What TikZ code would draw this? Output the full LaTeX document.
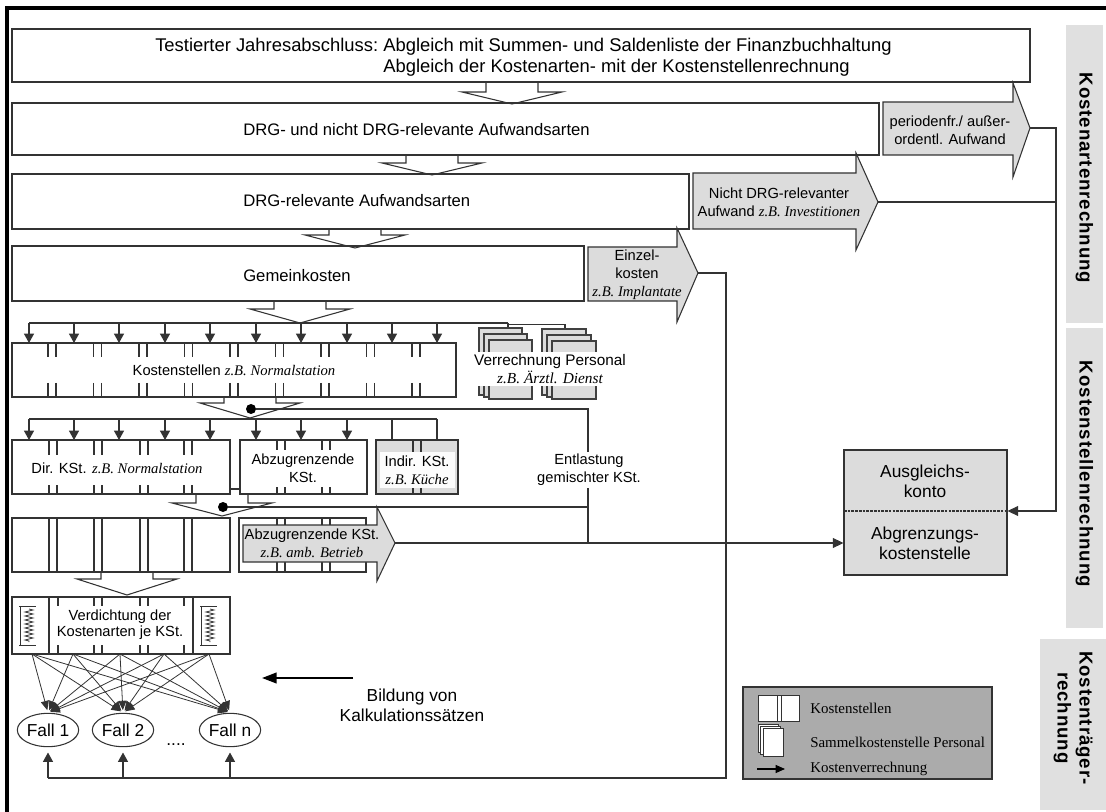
\documentclass[tikz,border=0pt]{standalone}
\usepackage{fontspec}
\setmainfont{Liberation Sans}
\newfontfamily\serif{Liberation Serif}
\newfontfamily\lblfont[LetterSpace=5]{Liberation Sans Bold}
\usetikzlibrary{arrows.meta,fit,decorations.pathmorphing,shapes.geometric}
\definecolor{lg}{HTML}{DCDCDC}
\definecolor{barc}{HTML}{E0E0E0}
\definecolor{leg}{HTML}{ABABAB}
\definecolor{ln}{HTML}{333333}
\newcommand\zb[1]{{\serif\itshape #1}}
\newcommand\hollow[4]{\draw[hol] ({#1-26},#2) -- ({#1-26},#3) -- ({#1-50},#3) -- (#1,#4) -- ({#1+50},#3) -- ({#1+26},#3) -- ({#1+26},#2);}
\newcommand\fatarrow[8]{\draw[fa] (#1,#4) -- (#2,#4) -- (#2,#6) -- (#3,#8) -- (#2,#7) -- (#2,#5) -- (#1,#5) -- cycle;}
\tikzset{
 bx/.style={draw=ln, line width=0.8pt, fill=white, inner sep=0pt},
 gbx/.style={bx, fill=lg},
 lt/.style={font=\fontsize{12.5}{15}\selectfont, inner sep=0pt},
 mt/.style={font=\fontsize{11}{13.5}\selectfont, inner sep=0pt, align=center},
 hol/.style={draw=ln, line width=0.8pt},
 fa/.style={draw=ln, line width=0.8pt, fill=lg},
 cn/.style={draw=ln, line width=0.8pt},
 tap/.style={cn, -{Triangle[width=7.5pt,length=7pt]}},
 tick/.style={draw=ln, line width=0.8pt},
 pg/.style={draw=black!75, fill=lg, line width=0.8pt},
 wpg/.style={draw=black!80, fill=white, line width=0.7pt},
 lbar/.style={fill=barc, inner sep=0pt},
 lbl/.style={rotate=-90, font=\lblfont\fontsize{14}{16.5}\selectfont, align=center},
 fall/.style={draw=ln, line width=0.8pt, fill=white, ellipse, minimum width=46pt, minimum height=25pt, inner sep=0pt, font=\fontsize{13}{15}\selectfont},
 fan/.style={draw=ln, line width=0.6pt, -{Triangle[width=6pt,length=7pt]}},
 legt/.style={font=\serif\fontsize{11.2}{12}\selectfont, anchor=west, inner sep=0pt},
}
\begin{document}
\begin{tikzpicture}[x=0.75pt,y=-0.75pt]
\useasboundingbox (0,0) rectangle (1106,812);
% frame
\draw[line width=2.3pt] (7,812) -- (7,8) -- (1106,8);

% right label bars
\node[lbar, fit={(1066,25)(1103,323)}] (L1) {};
\node[lbl] at ([yshift=-3pt]L1.center) {Kostenartenrechnung};
\node[lbar, fit={(1066,328)(1103,628)}] (L2) {};
\node[lbl] at ([yshift=3pt]L2.center) {Kostenstellenrechnung};
\node[lbar, fit={(1040,639)(1106,810)}] (L3) {};
\node[lbl] at ([yshift=5pt]L3.center) {Kostenträger-\\rechnung};

% main boxes
\node[bx, fit={(12,29)(1030,82)}] (A) {};
\node[inner sep=0pt, anchor=west, font=\fontsize{13.8}{15.8}\selectfont] at (155,57.5)
  {\begin{tabular}{@{}r@{\ }l@{}}Testierter Jahresabschluss:&Abgleich mit Summen- und Saldenliste der Finanzbuchhaltung\\
   &Abgleich der Kostenarten- mit der Kostenstellenrechnung\end{tabular}};
\node[bx, fit={(12,103)(879,155)}] (B) {};
\node[lt, anchor=west] at (243,130) {DRG- und nicht DRG-relevante Aufwandsarten};
\node[bx, fit={(12,174)(689,229)}] (C) {};
\node[lt, anchor=west] at (243,201) {DRG-relevante Aufwandsarten};
\node[bx, fit={(12,246)(584,301)}] (D) {};
\node[lt, anchor=west] at (243,276) {Gemeinkosten};

% hollow arrows
\hollow{512}{82}{92}{104}
\hollow{432}{155}{163}{175}
\hollow{355}{229}{235}{248}
\hollow{300}{301}{309}{323}

% fat gray arrows
\fatarrow{883}{1013}{1030}{102}{155}{83}{177}{128}
\node[mt] at (950,130) {periodenfr./ außer-\\ordentl. Aufwand};
\coordinate (tipP) at (1030,128);
\fatarrow{693}{856}{878}{173}{229}{153}{250}{202}
\node[mt] at (779,202) {Nicht DRG-relevanter\\Aufwand \zb{z.B. Investitionen}};
\coordinate (tipN) at (878,202);
\fatarrow{588}{677}{698}{247}{301}{228}{322}{273}
\node[mt] at (637,275) {Einzel-\\kosten\\\zb{z.B. Implantate}};
\coordinate (tipE) at (698,273);

% bus 1
\draw[cn] (29,323) -- (508,323);
\draw[cn, line width=1.4pt] (256,323) -- (508,323);
\foreach \x in {29,74,119,165,210,256,301,347,392,437}
  \draw[tap] (\x,323) -- (\x,343);
\draw[cn] (508,323) -- (508,328);
\draw[cn] (508,324.5) -- (565,324.5) -- (565,329);

% Kostenstellen
\node[bx, fit={(12,343)(456,397)}] (KS) {};
\foreach \k in {0,...,8}{
  \pgfmathsetmacro\xa{48+45.5*\k}
  \pgfmathsetmacro\xb{\xa+8}
  \draw[tick] (\xa,343) -- (\xa,357) (\xb,343) -- (\xb,357) (\xa,383) -- (\xa,397) (\xb,383) -- (\xb,397);
}
\node[mt] at (234,370) {Kostenstellen \zb{z.B. Normalstation}};

% Personal stacks
\draw[pg] (479,328) rectangle (522,395);
\draw[pg] (484,334) rectangle (527,397);
\draw[pg] (489,340) rectangle (532,399);
\draw[pg] (542,329) rectangle (586,395);
\draw[pg] (547,335) rectangle (591,397);
\draw[pg] (552,341) rectangle (596,399);
\node[mt, font=\fontsize{11.5}{14}\selectfont, fill=white, inner sep=1.5pt] (VP) at (550,369) {Verrechnung Personal\\\zb{z.B. Ärztl. Dienst}};

% hollow arrow 5 and dot 1
\hollow{250}{397}{403}{418}
\node[circle, fill=black, inner sep=0pt, minimum size=7.5pt] (dot1) at (251,409) {};

% bus 2
\draw[cn] (29,419) -- (437,419);
\draw[cn, line width=1.4pt] (301,419) -- (437,419);
\foreach \x in {29,74,119,165,210,256,301,347}
  \draw[tap] (\x,419) -- (\x,440);
\draw[cn] (392,419) -- (392,440) (437,419) -- (437,440);

% row 3
\node[bx, fit={(12,440)(230,494)}] (DIR) {};
\foreach \xa in {49,94,140,184}{
  \pgfmathsetmacro\xb{\xa+8}
  \draw[tick] (\xa,440) -- (\xa,455) (\xb,440) -- (\xb,455) (\xa,485) -- (\xa,494) (\xb,485) -- (\xb,494);
}
\node[mt] at (117,468) {Dir. KSt. \zb{z.B. Normalstation}};
\node[bx, fit={(240,440)(367,494)}] (ABZ) {};
\foreach \xa in {277,322}{
  \pgfmathsetmacro\xb{\xa+8}
  \draw[tick] (\xa,440) -- (\xa,450) (\xb,440) -- (\xb,450) (\xa,487) -- (\xa,494) (\xb,487) -- (\xb,494);
}
\node[mt] at (303,468) {Abzugrenzende\\KSt.};
\draw[cn] (DIR.east |- 0,489) -- (ABZ.west |- 0,489);
\node[gbx, fit={(376,440)(458,494)}] (IND) {};
\fill[white!92!lg] (380,452) rectangle (455,488);
\draw[tick] (413,440) -- (413,452) (421,440) -- (421,452) (413,488) -- (413,494) (421,488) -- (421,494);
\node[mt] at (417,470) {Indir. KSt.\\\zb{z.B. Küche}};

% hollow arrow 6 and dot 2
\hollow{222}{494}{503}{516}
\node[circle, fill=black, inner sep=0pt, minimum size=7.5pt] (dot2) at (223,507) {};

% row 4
\node[bx, fit={(12,518)(230,572)}] (R4) {};
\foreach \xa in {49,94,140,184}{
  \pgfmathsetmacro\xb{\xa+8}
  \draw[tick] (\xa,518) -- (\xa,572) (\xb,518) -- (\xb,572);
}
\node[bx, fit={(239,518)(366,572)}] (R4b) {};
\foreach \xa in {277,322}{
  \pgfmathsetmacro\xb{\xa+8}
  \draw[tick] (\xa,518) -- (\xa,572) (\xb,518) -- (\xb,572);
}
\fatarrow{243}{377}{395}{525}{562}{507}{581}{543}
\node[mt] at (312,543) {Abzugrenzende KSt.\\\zb{z.B. amb. Betrieb}};
\coordinate (tipA) at (395,543);

% Entlastung lines
\draw[cn] (dot1) -- (588,409) coordinate (e1) -- (588,543) coordinate (e2);
\draw[cn] (dot2) -- (588,507);
\node[mt, fill=white, inner sep=1.5pt] (ENT) at (589,470) {Entlastung\\gemischter KSt.};

% Ausgleichskonto / Abgrenzungskostenstelle
\node[gbx, fit={(844,450)(1007,575)}] (AUS) {};
\draw[line width=1.4pt, draw=ln, dash pattern=on 2pt off 0.8pt] (844,450) -- (1007,450) (844,511) -- (1007,511) (844,575) -- (1007,575);
\node[font=\fontsize{13}{15}\selectfont, align=center] at (925,481) {Ausgleichs-\\konto};
\node[font=\fontsize{13}{15}\selectfont, align=center] at (925,543) {Abgrenzungs-\\kostenstelle};

\draw[cn, -{Triangle[width=7.5pt,length=8pt]}] (tipA) -- (AUS.west |- tipA);
\draw[cn] (tipP) -- (1056,128) -- (1056,512);
\draw[cn] (tipN) -- (1056,202);
\draw[cn, -{Triangle[width=7.5pt,length=8pt]}] (1056,511) -- (AUS.east |- 0,511);

% hollow arrow 7
\hollow{127}{572}{579}{595}

% Verdichtung
\node[bx, fit={(12,597)(230,654)}] (VD) {};
\draw[tick] (49,597) -- (49,654) (193,597) -- (193,654);
\foreach \xa in {58,94,102,140,148,184}
  \draw[tick] (\xa,597) -- (\xa,606) (\xa,645) -- (\xa,654);
\foreach \sx in {19,200}{
  \draw[tick, line width=0.6pt] (\sx,606) -- ({\sx+17},606) (\sx,645) -- ({\sx+17},645) ({\sx+1},606) -- ({\sx+1},645);
  \draw[ln, line width=0.6pt, decorate, decoration={zigzag, segment length=3pt, amplitude=3pt}] ({\sx+10},609) -- ({\sx+10},642);
}
\node[font=\fontsize{11}{12.3}\selectfont, align=center] at (120,625) {Verdichtung der\\Kostenarten je KSt.};

% Fall nodes
\node[fall] (F1) at (48,730) {Fall 1};
\node[fall] (F2) at (123,730) {Fall 2};
\node[fall] (Fn) at (230,730) {Fall n};
\node[font=\fontsize{13}{15}\selectfont, anchor=base] at (176,745) {....};
\foreach \sx in {32,73,120,164,209}
  \foreach \t in {F1,F2,Fn}
    \draw[fan, shorten >=2pt] (\sx,654) -- (\t.north);

% Einzelkosten line to Fall nodes
\draw[cn] (tipE) -- (726,273) -- (726,778) -- (48,778);
\draw[tap, shorten >=4pt] (F1.south |- 0,778) -- (F1.south);
\draw[tap, shorten >=4pt] (F2.south |- 0,778) -- (F2.south);
\draw[tap, shorten >=4pt] (Fn.south |- 0,778) -- (Fn.south);

% Bildung
\node[font=\fontsize{13}{15}\selectfont, align=center] (BK) at (412,705) {Bildung von\\Kalkulationssätzen};
\coordinate (bk0) at (353,678);
\coordinate (bk1) at (262,678);
\draw[line width=1.5pt, -{Triangle[width=8pt,length=11pt]}] (bk0) -- (bk1);

% legend
\node[bx, fill=leg, fit={(743,687)(992,779)}] (LG) {};
\draw[wpg] (758,695) rectangle (799,721);
\draw[wpg] (777,695) -- (777,721) (781,695) -- (781,721);
\node[legt] at (810,708) {Kostenstellen};
\draw[wpg] (758,724) rectangle (778,752);
\draw[wpg] (760.5,726) rectangle (780.5,754);
\draw[wpg] (763,728) rectangle (783,756);
\node[legt] at (810,742) {Sammelkostenstelle Personal};
\draw[cn, draw=black, -{Triangle[width=6pt,length=7pt]}] (757,769) -- (785,769);
\node[legt] at (810,769) {Kostenverrechnung};
\end{tikzpicture}
\end{document}
